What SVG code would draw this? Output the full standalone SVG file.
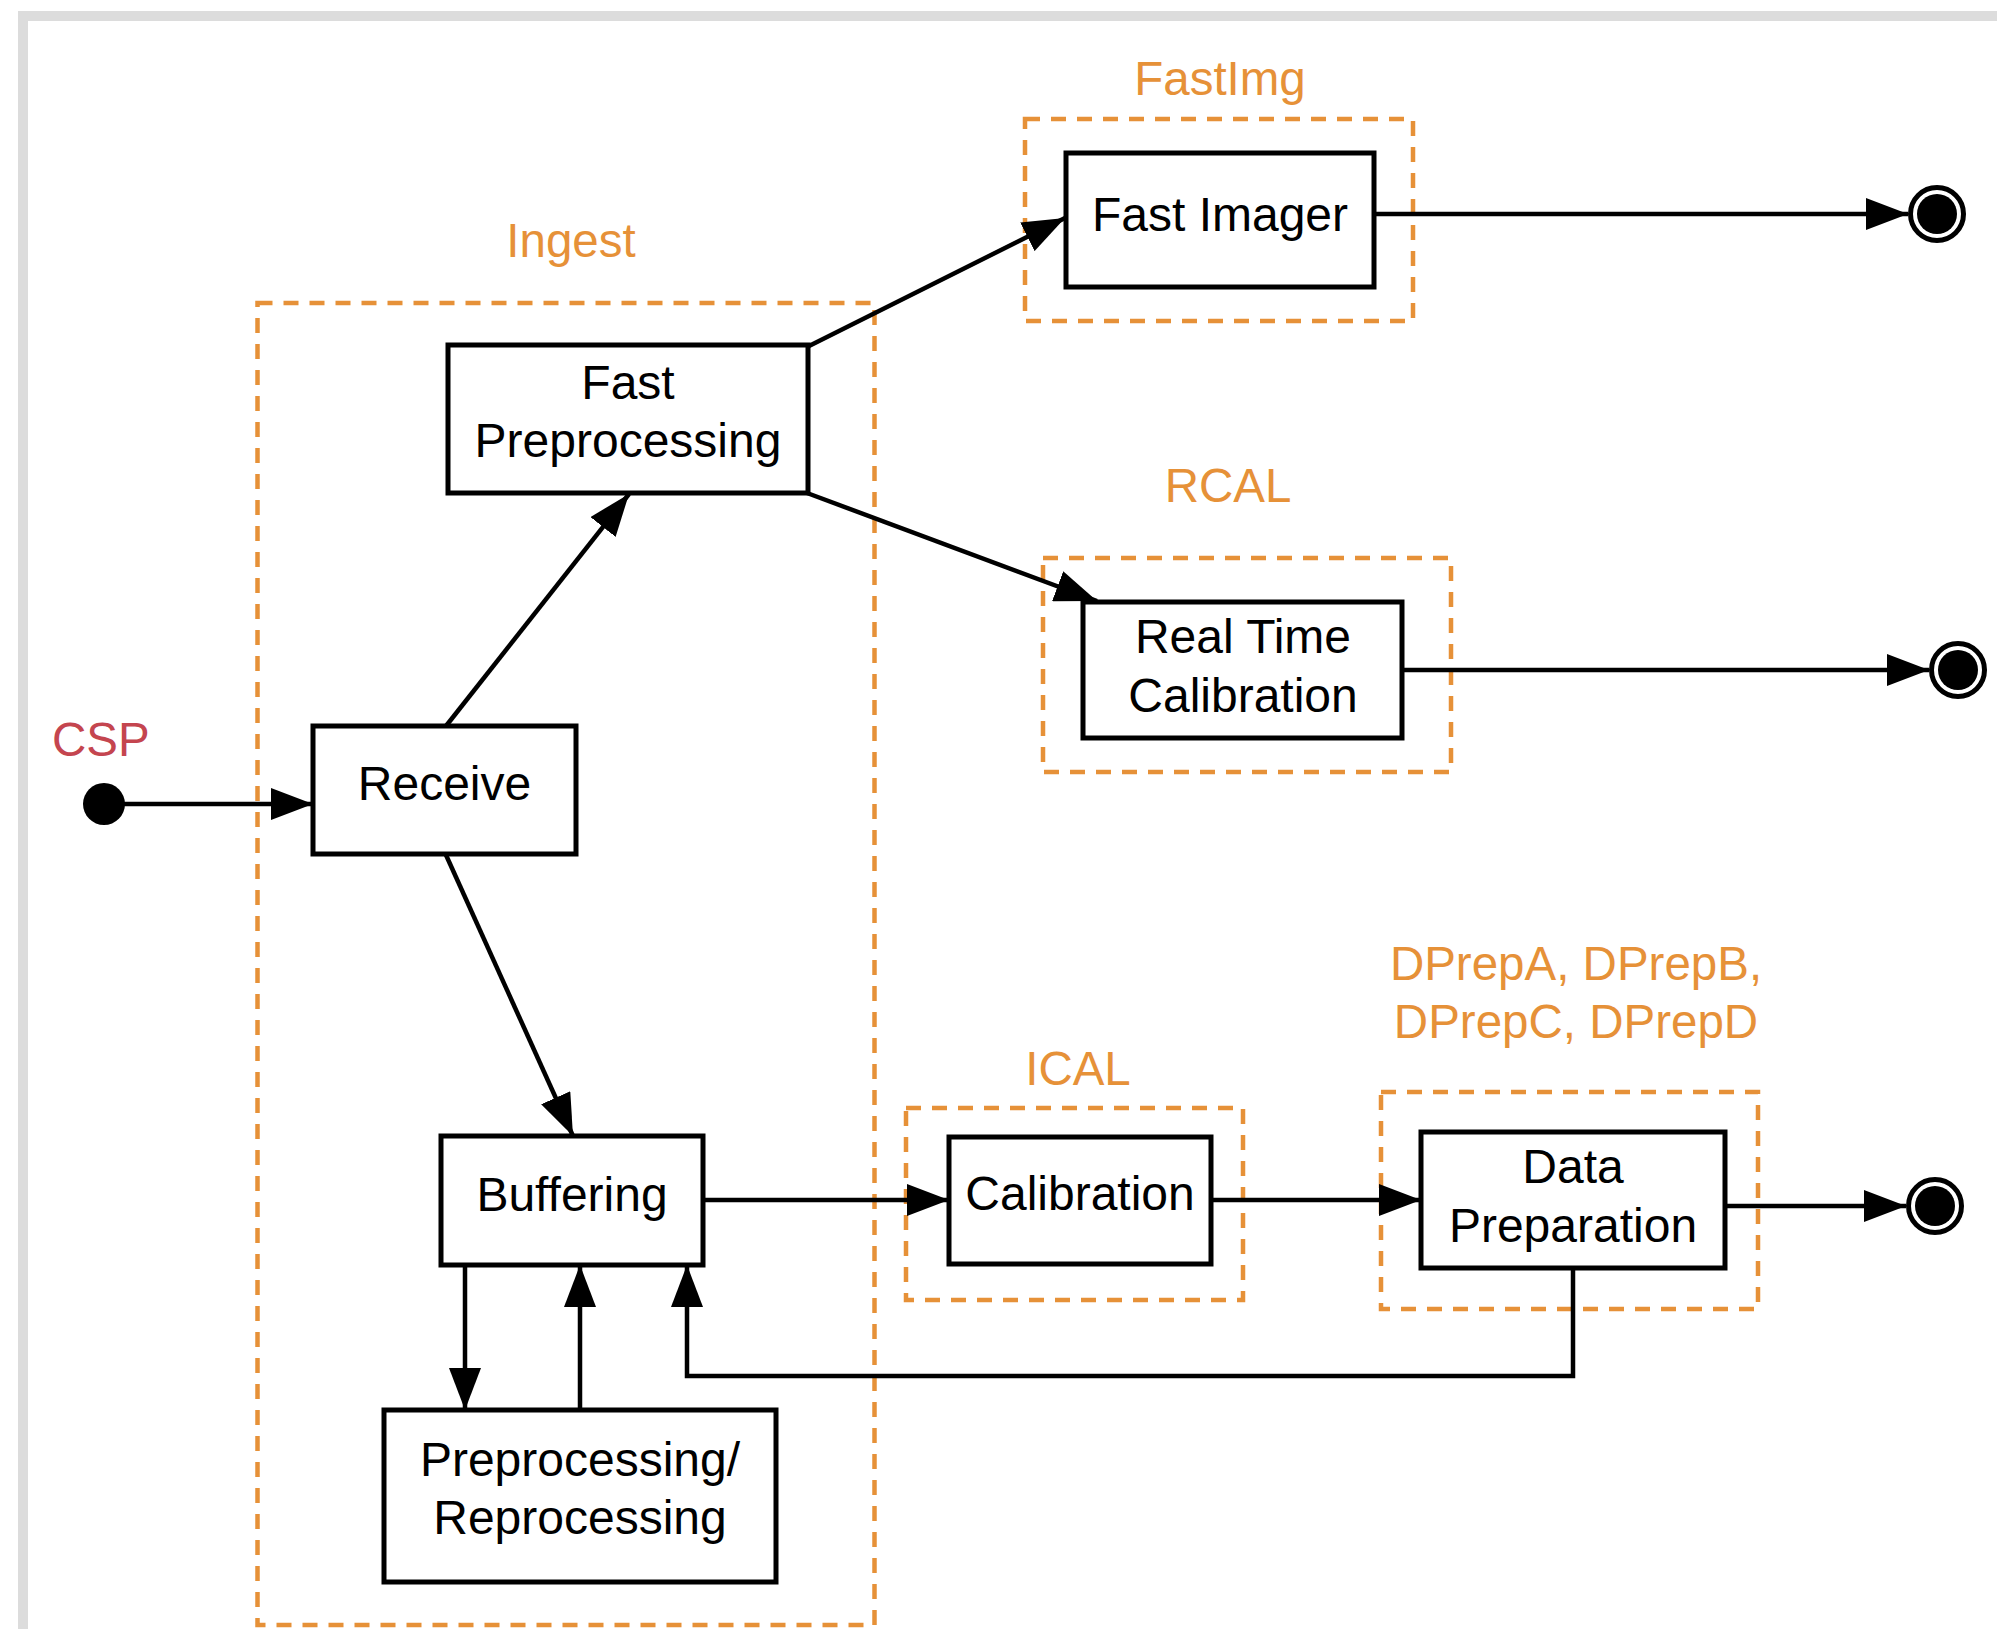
<svg xmlns="http://www.w3.org/2000/svg" width="1997" height="1629" viewBox="0 0 1997 1629">
<defs>
<style>
.box{fill:#fff;stroke:#000;stroke-width:5}
.grp{fill:none;stroke:#e69138;stroke-width:4.5;stroke-dasharray:15 11}
.t{font-family:"Liberation Sans",Arial,sans-serif;font-size:48px;fill:#000;text-anchor:middle}
.lbl{font-family:"Liberation Sans",Arial,sans-serif;font-size:47.5px;fill:#e69138;text-anchor:middle}
.csp{font-family:"Liberation Sans",Arial,sans-serif;font-size:47.5px;fill:#c4454f}
.c{fill:none;stroke:#000;stroke-width:4.5;marker-end:url(#ah)}
</style>
<marker id="ah" markerUnits="userSpaceOnUse" markerWidth="42" markerHeight="32" refX="42" refY="16" orient="auto">
<path d="M0,0 L42,16 L0,32 z" fill="#000"/>
</marker>
</defs>
<rect x="0" y="0" width="1997" height="1629" fill="#fff"/>
<g id="frame" fill="#dcdcdc">
<rect x="18" y="11" width="1979" height="10"/>
<rect x="18" y="11" width="10" height="1618"/>
</g>
<g id="groups">
<rect class="grp" x="257.5" y="303" width="617" height="1322"/>
<text class="lbl" x="571" y="257">Ingest</text>
<rect class="grp" x="1025" y="119" width="388" height="202"/>
<text class="lbl" x="1220" y="95">FastImg</text>
<rect class="grp" x="1043" y="558" width="408" height="214"/>
<text class="lbl" x="1228" y="502">RCAL</text>
<rect class="grp" x="906" y="1108" width="337" height="192"/>
<text class="lbl" x="1078" y="1085">ICAL</text>
<rect class="grp" x="1381" y="1092" width="377" height="217"/>
<text class="lbl" x="1576" y="980">DPrepA, DPrepB,</text>
<text class="lbl" x="1576" y="1038">DPrepC, DPrepD</text>
</g>
<g id="connectors">
<line class="c" x1="104" y1="804" x2="313" y2="804"/>
<line class="c" x1="446" y1="726" x2="629" y2="494"/>
<line class="c" x1="446" y1="855" x2="573" y2="1136"/>
<line class="c" x1="809" y1="346" x2="1065" y2="218"/>
<line class="c" x1="807" y1="493" x2="1097" y2="601"/>
<line class="c" x1="1374" y1="214" x2="1908" y2="214"/>
<line class="c" x1="1402" y1="670" x2="1929" y2="670"/>
<line class="c" x1="703" y1="1200" x2="949" y2="1200"/>
<line class="c" x1="1211" y1="1200" x2="1421" y2="1200"/>
<line class="c" x1="1725" y1="1206" x2="1906" y2="1206"/>
<line class="c" x1="465" y1="1265" x2="465" y2="1410"/>
<line class="c" x1="580" y1="1410" x2="580" y2="1265"/>
<polyline class="c" points="1573,1268 1573,1376 687,1376 687,1265"/>
</g>
<g id="start">
<circle cx="104" cy="804" r="21" fill="#000"/>
<text class="csp" x="52" y="756">CSP</text>
</g>
<g id="end1"><circle cx="1937" cy="214" r="26.5" fill="#fff" stroke="#000" stroke-width="5"/><circle cx="1937" cy="214" r="20" fill="#000"/></g>
<g id="end2"><circle cx="1958" cy="670" r="26.5" fill="#fff" stroke="#000" stroke-width="5"/><circle cx="1958" cy="670" r="20" fill="#000"/></g>
<g id="end3"><circle cx="1935" cy="1206" r="26.5" fill="#fff" stroke="#000" stroke-width="5"/><circle cx="1935" cy="1206" r="20" fill="#000"/></g>
<g id="fastpre"><rect class="box" x="448" y="345" width="360" height="148"/><text class="t" x="628" y="399">Fast</text><text class="t" x="628" y="457">Preprocessing</text></g>
<g id="receive"><rect class="box" x="313" y="726" width="263" height="128"/><text class="t" x="444.5" y="800">Receive</text></g>
<g id="buffering"><rect class="box" x="441" y="1136" width="262" height="129"/><text class="t" x="572" y="1211">Buffering</text></g>
<g id="prepro"><rect class="box" x="384" y="1410" width="392" height="172"/><text class="t" x="580" y="1476">Preprocessing/</text><text class="t" x="580" y="1534">Reprocessing</text></g>
<g id="fastimager"><rect class="box" x="1066" y="153" width="308" height="134"/><text class="t" x="1220" y="231">Fast Imager</text></g>
<g id="rtc"><rect class="box" x="1083" y="602" width="319" height="136"/><text class="t" x="1243" y="653">Real Time</text><text class="t" x="1243" y="712">Calibration</text></g>
<g id="calibration"><rect class="box" x="949" y="1137" width="262" height="127"/><text class="t" x="1080" y="1210">Calibration</text></g>
<g id="dataprep"><rect class="box" x="1421" y="1132" width="304" height="136"/><text class="t" x="1573" y="1183">Data</text><text class="t" x="1573" y="1242">Preparation</text></g>
</svg>
